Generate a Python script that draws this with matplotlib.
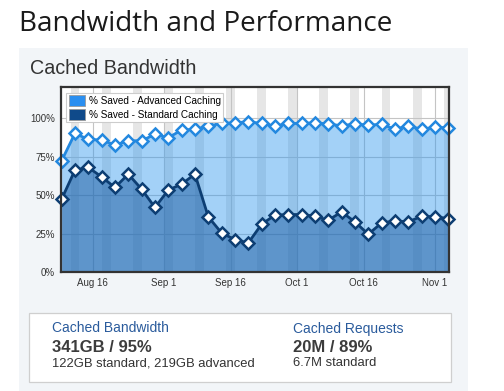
import matplotlib
matplotlib.use("Agg")
import matplotlib.pyplot as plt
import matplotlib.dates as mdates
from matplotlib.patches import Rectangle, Patch
import pandas as pd

# values, one point every 3 days
dates = pd.date_range("2012-08-09", periods=30, freq="3D")
advanced = [72.4, 90.2, 86.3, 85.9, 82.6, 85.4, 85.4, 89.6, 87.4, 92.4,
            92.8, 95.0, 96.7, 97.1, 97.8, 96.7, 95.0, 96.7, 96.7, 97.1,
            96.3, 95.2, 96.3, 95.6, 96.1, 93.0, 95.0, 93.0, 94.1, 93.9]
standard = [47.4, 66.3, 68.1, 61.9, 55.0, 63.7, 53.9, 42.0, 53.3, 57.2,
            63.7, 35.9, 25.4, 21.1, 18.9, 31.1, 37.0, 37.4, 37.4, 36.3,
            33.7, 39.1, 32.6, 24.6, 31.9, 33.2, 32.6, 36.3, 35.9, 34.8]
tick_dates = ["2012-08-16", "2012-09-01", "2012-09-16", "2012-10-01", "2012-10-16", "2012-11-01"]
tick_labels = ["Aug 16", "Sep 1", "Sep 16", "Oct 1", "Oct 16", "Nov 1"]
y_ticks = [0, 25, 50, 75, 100]

W, H = 504, 391
fig = plt.figure(figsize=(W / 100, H / 100), dpi=100)
fig.patch.set_facecolor("white")


def fx(x):
    return x / W


def fy(y):
    return 1 - y / H


def rect(x0, y0, x1, y1, **kw):
    fig.add_artist(Rectangle((fx(x0), fy(y1)), fx(x1) - fx(x0), fy(y0) - fy(y1),
                             transform=fig.transFigure, **kw))


# page header and panel
fig.text(fx(19), fy(31), "Bandwidth and Performance", fontsize=20.1, color="#1a1a1a",
         family="Open Sans", va="baseline")
rect(19, 48, 468, 392, facecolor="#f2f5f8", edgecolor="none", zorder=-2)
fig.text(fx(29.5), fy(74), "Cached Bandwidth", fontsize=14.2, color="#333333",
         family="Liberation Sans", va="baseline")

# chart
ax = fig.add_axes([fx(60.7), fy(272), fx(449) - fx(60.7), fy(87) - fy(272)])
ax.set_facecolor("white")

# weekend shading
d = pd.Timestamp("2012-08-04")
while d < pd.Timestamp("2012-11-10"):
    ax.axvspan(d, d + pd.Timedelta(days=2), color="#e6e6e6", lw=0, zorder=0.5)
    d += pd.Timedelta(days=7)

ax.fill_between(dates, 0, advanced, color="#3399ee", alpha=0.45, lw=0, zorder=2)
ax.fill_between(dates, 0, standard, color="#1a5aa0", alpha=0.5, lw=0, zorder=2.1)
ax.plot(dates, advanced, color="#2388df", lw=2, marker="D", ms=6.5,
        mfc="white", mec="#2388df", mew=1.8, zorder=4, clip_on=False)
ax.plot(dates, standard, color="#0d3e73", lw=2, marker="D", ms=6.5,
        mfc="white", mec="#0d3e73", mew=1.8, zorder=4, clip_on=False)

ax.set_ylim(0, 120.4)
ax.set_xlim(dates[0] - pd.Timedelta(hours=5), dates[-1] + pd.Timedelta(hours=4))
ax.set_yticks(y_ticks)
ax.set_yticklabels(["%d%%" % v for v in y_ticks])
ax.set_xticks(pd.to_datetime(tick_dates))
ax.set_xticklabels(tick_labels)
ax.tick_params(length=0, labelsize=7, colors="#333333", pad=4)
for lab in ax.get_xticklabels() + ax.get_yticklabels():
    lab.set_family("Liberation Sans")
ax.grid(True, color="#c4c4c4", lw=0.8, zorder=1)
ax.set_axisbelow(True)
for s in ax.spines.values():
    s.set_color("#333333")
    s.set_linewidth(1.6)
    s.set_zorder(5)

handles = [Patch(facecolor="#2b8ff0", edgecolor="#9a9a9a", lw=0.6),
           Patch(facecolor="#0f4a8a", edgecolor="#9a9a9a", lw=0.6)]
leg = ax.legend(handles, ["% Saved - Advanced Caching", "% Saved - Standard Caching"],
                loc="upper left", bbox_to_anchor=(0.0145, 0.966), borderaxespad=0,
                prop={"family": "Liberation Sans", "size": 7.2},
                handlelength=1.67, handleheight=1.3, handletextpad=0.33,
                labelspacing=0.3, borderpad=0.22, fancybox=False,
                framealpha=1, edgecolor="#cccccc")
leg.get_frame().set_linewidth(0.8)
leg.set_zorder(6)

# summary box
rect(29.3, 313.3, 450.7, 381.7, facecolor="white", edgecolor="#cfcfcf", lw=0.9, zorder=-1)
fig.text(fx(51.7), fy(328.5), "Cached Bandwidth", fontsize=10, color="#2a5b9c",
         family="Liberation Sans", va="center")
fig.text(fx(51.7), fy(347), "341GB / 95%", fontsize=12, fontweight="bold",
         color="#3c3c3c", family="Liberation Sans", va="center")
fig.text(fx(51.7), fy(363.5), "122GB standard, 219GB advanced", fontsize=9.4,
         color="#333333", family="Liberation Sans", va="center")
fig.text(fx(292.7), fy(328.5), "Cached Requests", fontsize=10, color="#2a5b9c",
         family="Liberation Sans", va="center")
fig.text(fx(292.7), fy(347), "20M / 89%", fontsize=12, fontweight="bold",
         color="#3c3c3c", family="Liberation Sans", va="center")
fig.text(fx(292.7), fy(363.5), "6.7M standard", fontsize=9.4,
         color="#333333", family="Liberation Sans", va="center")

fig.savefig("out.png", dpi=100)
